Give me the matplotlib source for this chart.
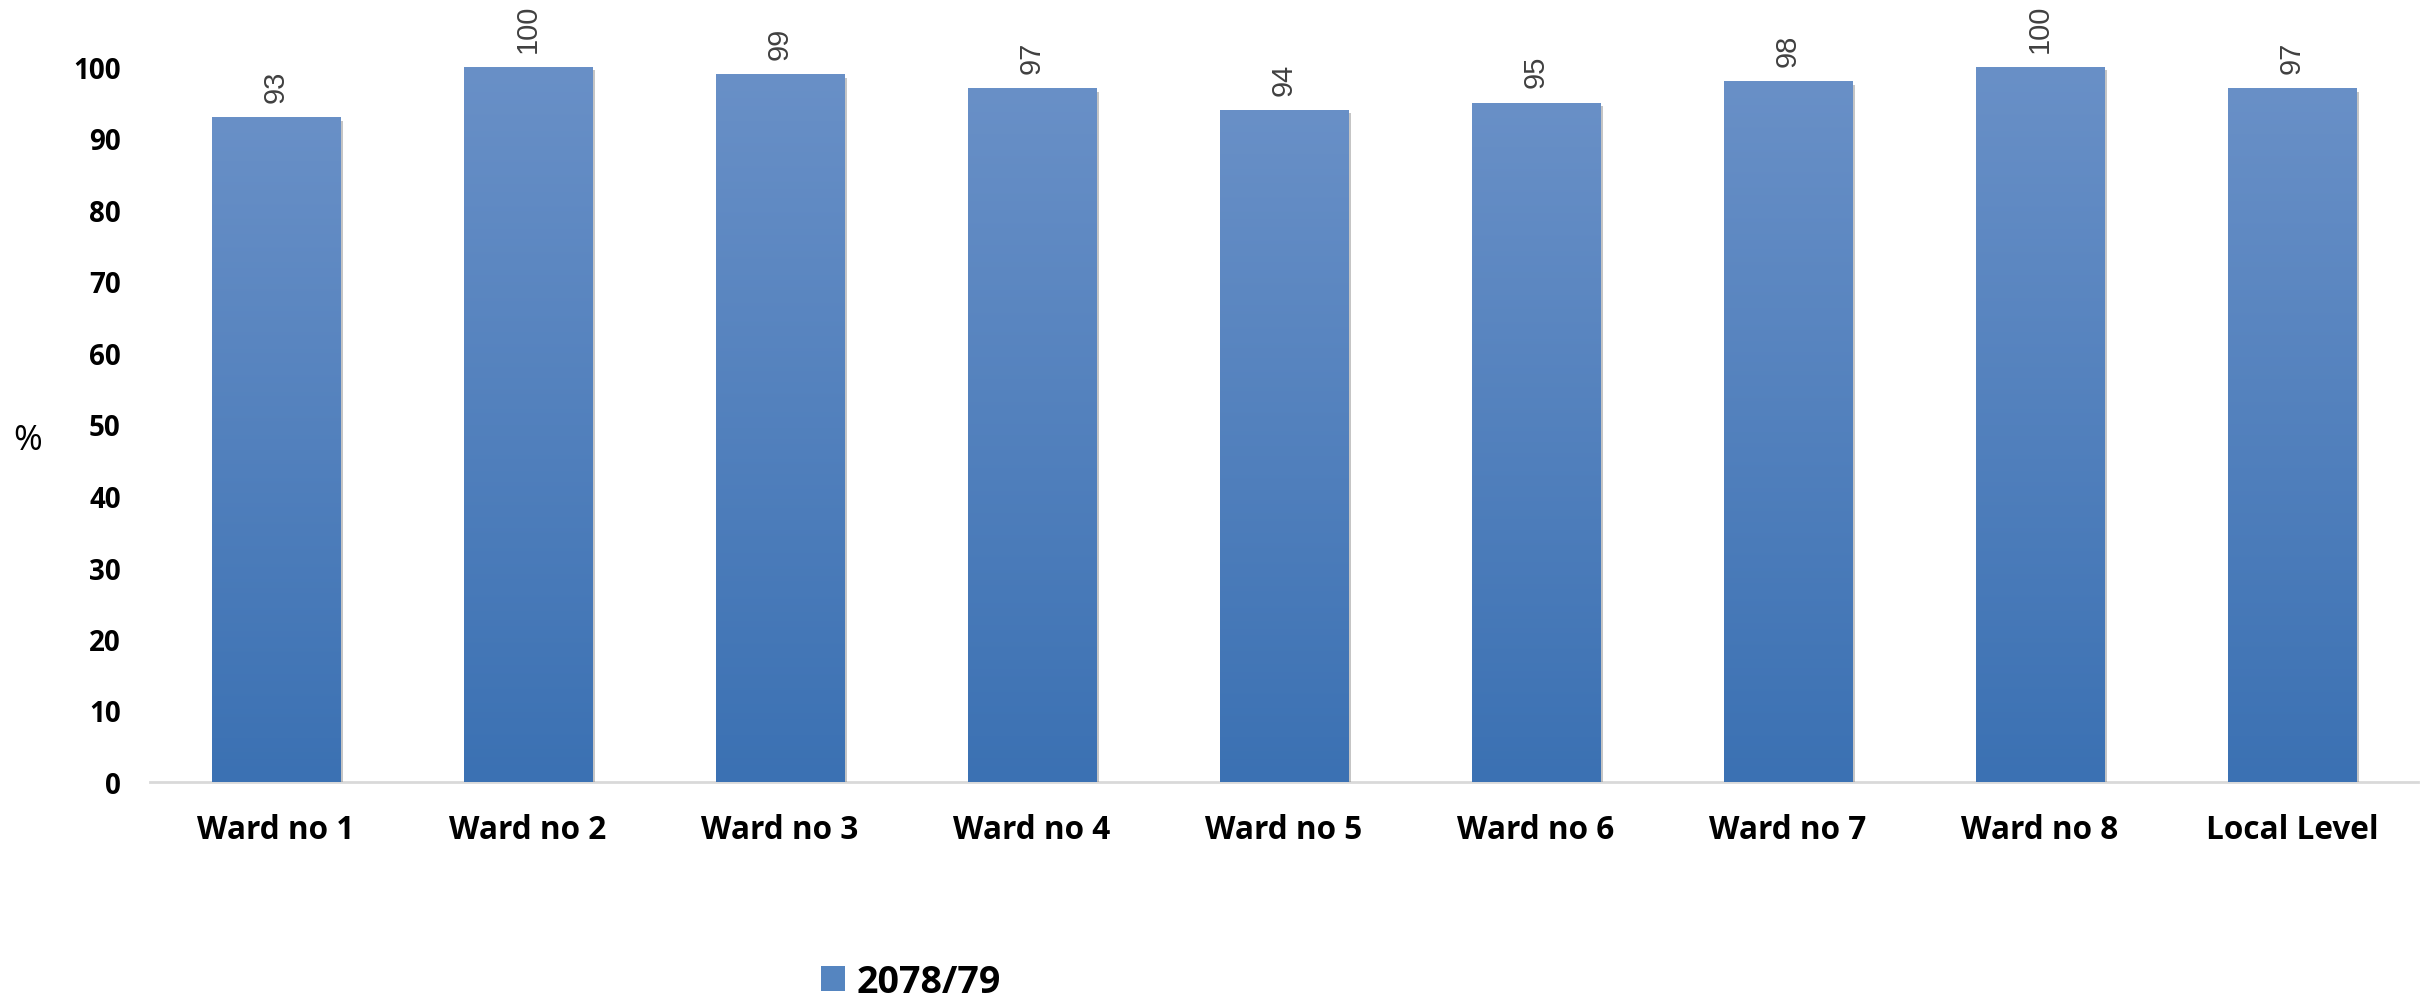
import numpy as np
import matplotlib
matplotlib.use("Agg")
import matplotlib.pyplot as plt
from matplotlib import patheffects as pe
from matplotlib.colors import LinearSegmentedColormap
from matplotlib.patches import Patch

categories = ["Ward no 1", "Ward no 2", "Ward no 3", "Ward no 4", "Ward no 5",
              "Ward no 6", "Ward no 7", "Ward no 8", "Local Level"]
values = [93, 100, 99, 97, 94, 95, 98, 100, 97]
series_name = "2078/79"
yticks = list(range(0, 101, 10))

top_col = "#6990C7"
bot_col = "#3B71B3"
FONT = "Open Sans"

fig = plt.figure(figsize=(24.3, 10.03), dpi=100)
ax = fig.add_axes([150/2430, 1 - 783/1003, (2418-150)/2430, (783-68)/1003])

x = np.arange(len(categories))
bars = ax.bar(x, values, width=0.508, color=bot_col, zorder=2,
              path_effects=[pe.SimplePatchShadow(offset=(2.5, -2.5), shadow_rgbFace="#7f7f7f", alpha=0.45),
                            pe.Normal()])

cmap = LinearSegmentedColormap.from_list("g", [bot_col, top_col])
grad = np.linspace(0, 1, 256).reshape(-1, 1)
for b in bars:
    x0, w, h = b.get_x(), b.get_width(), b.get_height()
    im = ax.imshow(grad, cmap=cmap, aspect="auto", origin="lower",
                   extent=[x0, x0 + w, 0, h], zorder=3)
    im.set_clip_path(b)

for xi, v in zip(x, values):
    ax.annotate(f"{v}", (xi, v), xytext=(0, 11), textcoords="offset points",
                rotation=90, ha="center", va="bottom", fontsize=21,
                color="#404040", family="Liberation Sans", annotation_clip=False)

ax.set_xlim(-0.5, len(categories) - 0.5)
ax.set_ylim(0, 100)
ax.set_yticks(yticks)
ax.set_yticklabels([str(t) for t in yticks], fontsize=20, fontweight="bold", family=FONT)
ax.set_xticks(x)
ax.set_xticklabels(categories, fontsize=22.7, fontweight="bold", family=FONT)
ax.tick_params(axis="y", length=0, pad=21)
ax.tick_params(axis="x", length=0, pad=22)
for s in ["top", "right", "left"]:
    ax.spines[s].set_visible(False)
ax.spines["bottom"].set_color("#D9D9D9")
ax.spines["bottom"].set_linewidth(2)
ax.spines["bottom"].set_zorder(1)

fig.text(28/2430, 1 - 441/1003, "%", fontsize=25, family=FONT, ha="center", va="center")

handle = Patch(facecolor="#5585C0", edgecolor="none")
fig.legend([handle], [series_name], loc="center left",
           bbox_to_anchor=(821/2430, 1 - 983/1003), frameon=False,
           prop={"family": FONT, "weight": "bold", "size": 27},
           handlelength=0.65, handleheight=0.65, handletextpad=0.3,
           borderpad=0, borderaxespad=0)

fig.savefig("out.png", dpi=100, facecolor="white")
